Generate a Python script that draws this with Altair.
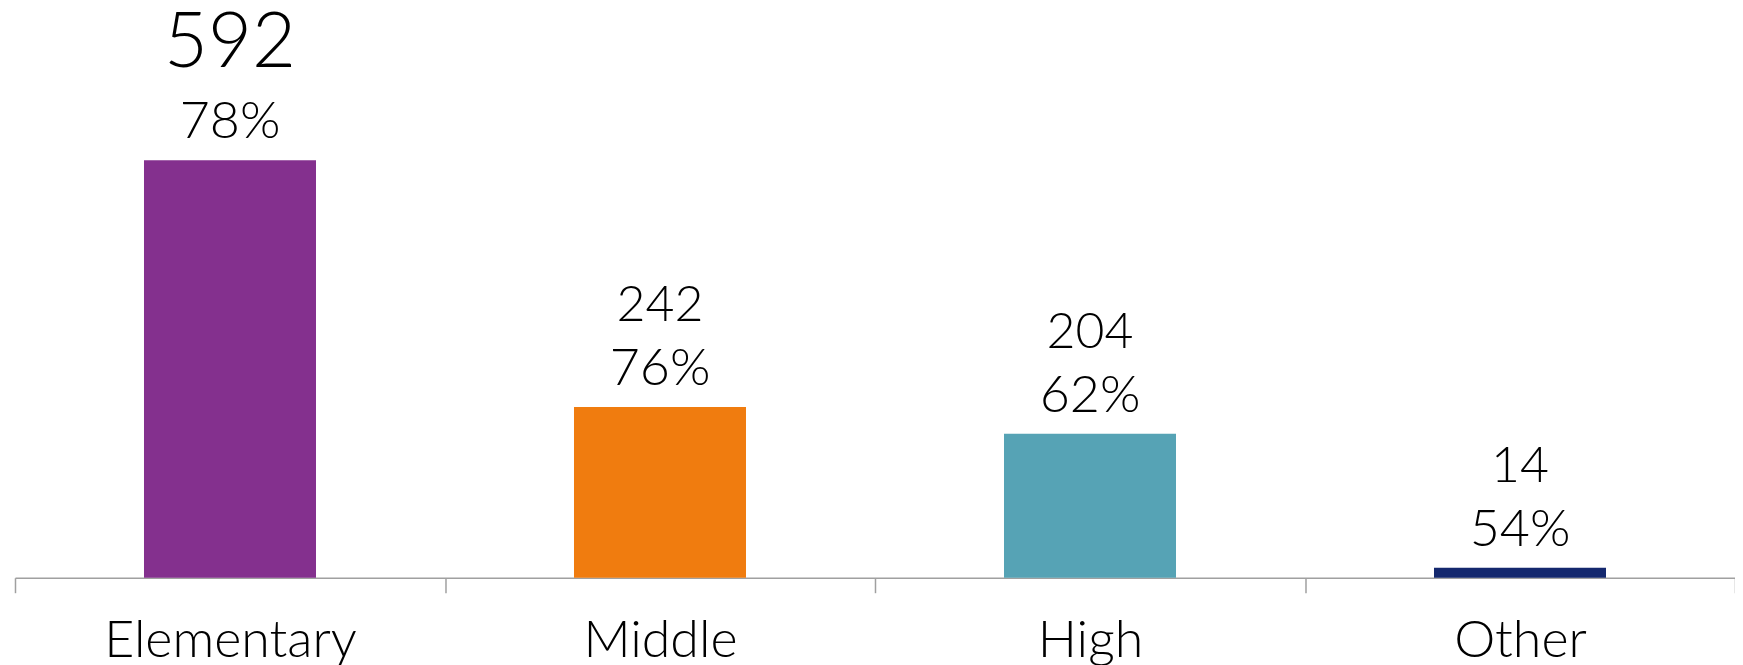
import altair as alt
import pandas as pd

categories = ["Elementary", "Middle", "High", "Other"]
counts = [592, 242, 204, 14]
percents = ["78%", "76%", "62%", "54%"]
colors = ["#84308E", "#F07C0F", "#56A3B5", "#14286E"]

df = pd.DataFrame({"cat": categories, "count": counts, "pct": percents})

FONT = "Lato"
W = 300

base = alt.Chart(df).encode(
    x=alt.X(
        "cat:N",
        sort=categories,
        scale=alt.Scale(paddingInner=0, paddingOuter=0),
        axis=alt.Axis(
            title=None,
            labelAngle=0,
            labelFont=FONT,
            labelFontSize=52,
            labelFontWeight=W,
            labelColor="black",
            labelLimit=0,
            domainColor="#A0A0A0",
            domainWidth=1.5,
            tickColor="#A0A0A0",
            tickWidth=1.5,
            tickSize=15,
            tickBand="extent",
            labelPadding=23,
        ),
    ),
    y=alt.Y("count:Q", scale=alt.Scale(domain=[0, 801.6]), axis=None),
)

bars = base.mark_bar(width=alt.RelativeBandSize(0.4)).encode(
    color=alt.Color("cat:N", scale=alt.Scale(domain=categories, range=colors), legend=None)
)

pct = base.mark_text(dy=-22, baseline="alphabetic", font=FONT, fontSize=52, fontWeight=W, color="black").encode(
    text="pct:N"
)
cnt = (
    base.transform_filter(alt.datum.cat != "Elementary")
    .mark_text(dy=-86, baseline="alphabetic", font=FONT, fontSize=50, fontWeight=W, color="black")
    .encode(text="count:Q")
)
big = (
    base.transform_filter(alt.datum.cat == "Elementary")
    .mark_text(dy=-93, baseline="alphabetic", font=FONT, fontSize=76, fontWeight=W, color="black")
    .encode(text="count:Q")
)

chart = (
    alt.layer(bars, pct, cnt, big)
    .properties(
        width=1722,
        height=566,
        autosize=alt.AutoSizeParams(type="none"),
        padding={"left": 7, "top": 4, "right": 0, "bottom": 88},
    )
    .configure_view(stroke=None)
)

chart.save("out.html", embed_options={"renderer": "svg", "actions": False})
